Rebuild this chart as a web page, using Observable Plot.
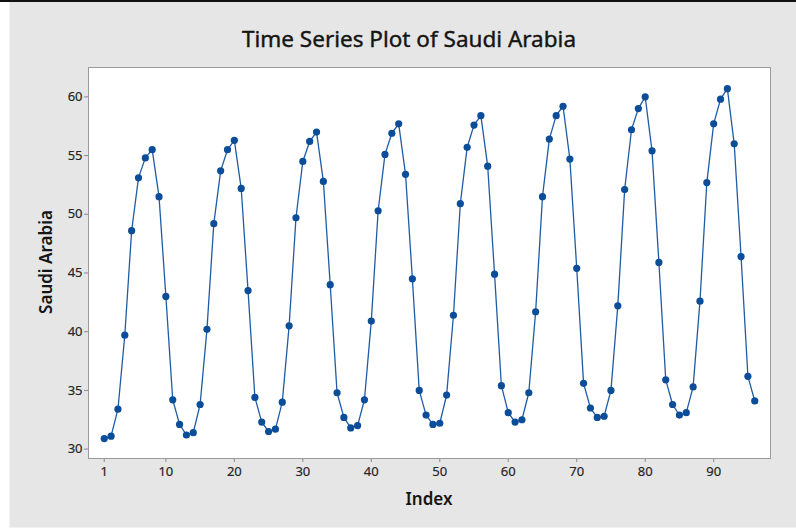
<!DOCTYPE html>
<html>
<head>
<meta charset="utf-8">
<script src="https://cdn.jsdelivr.net/npm/d3@7"></script>
<script src="https://cdn.jsdelivr.net/npm/@observablehq/plot@0.6"></script>
<style>
  body { margin: 0; background: #fff; }
  #wrap { position: relative; width: 796px; height: 530px; overflow: hidden; background: #fff; border-top: 2px solid #111; box-sizing: border-box; }
  #panel { position: absolute; left: 9px; top: 0; right: 0; bottom: 2px; background: #e6e6e6; border-left: 1px solid #f2f2f2; border-bottom: 1px solid #f2f2f2; }
  #chart { position: absolute; left: 0; top: -2px; }
  .txt { position: absolute; font-family: "Noto Sans", "Open Sans", sans-serif; color: #151515; white-space: nowrap; }
  #title { left: 409px; top: 21px; transform: translateX(-50%); font-size: 22.5px; -webkit-text-stroke: 0.4px #151515; }
  #xlab { left: 429px; top: 485px; transform: translateX(-50%); font-size: 17px; font-weight: 600; }
  #ylab { left: 45px; top: 260px; transform: translate(-50%, -50%) rotate(-90deg); font-size: 17px; font-weight: 600; }
  #chart svg g[aria-label$="tick label"] text { stroke: #262626; stroke-width: 0.2px; }
</style>
</head>
<body>
<div id="wrap">
  <div id="panel"></div>
  <div id="chart"></div>
  <div class="txt" id="title">Time Series Plot of Saudi Arabia</div>
  <div class="txt" id="ylab">Saudi Arabia</div>
  <div class="txt" id="xlab">Index</div>
</div>
<script>
// Monthly series, observations 1..96
const saudiArabia = [
  30.9, 31.1, 33.4, 39.7, 48.6, 53.1, 54.8, 55.5, 51.5, 43.0, 34.2, 32.1,
  31.2, 31.4, 33.8, 40.2, 49.2, 53.7, 55.5, 56.3, 52.2, 43.5, 34.4, 32.3,
  31.5, 31.7, 34.0, 40.5, 49.7, 54.5, 56.2, 57.0, 52.8, 44.0, 34.8, 32.7,
  31.8, 32.0, 34.2, 40.9, 50.3, 55.1, 56.9, 57.7, 53.4, 44.5, 35.0, 32.9,
  32.1, 32.2, 34.6, 41.4, 50.9, 55.7, 57.6, 58.4, 54.1, 44.9, 35.4, 33.1,
  32.3, 32.5, 34.8, 41.7, 51.5, 56.4, 58.4, 59.2, 54.7, 45.4, 35.6, 33.5,
  32.7, 32.8, 35.0, 42.2, 52.1, 57.2, 59.0, 60.0, 55.4, 45.9, 35.9, 33.8,
  32.9, 33.1, 35.3, 42.6, 52.7, 57.7, 59.8, 60.7, 56.0, 46.4, 36.2, 34.1
];
const xTicks = [1, 10, 20, 30, 40, 50, 60, 70, 80, 90];
const yTicks = [30, 35, 40, 45, 50, 55, 60];

const data = saudiArabia.map((value, i) => ({index: i + 1, value}));

const lineColor = "#1f5ca6";
const dotColor = "#0b4d98";

const chart = Plot.plot({
  width: 796,
  height: 530,
  marginLeft: 88,
  marginRight: 26,
  marginTop: 67,
  marginBottom: 72,
  style: {background: "transparent", fontFamily: "'Noto Sans', 'Open Sans', sans-serif", fontSize: "13px", color: "#262626"},
  x: {domain: [-1.3, 98.3]},
  y: {domain: [29.2, 62.5]},
  marks: [
    Plot.frame({fill: "white", stroke: "none"}),
    Plot.axisX({ticks: xTicks, tickSize: 4, tickPadding: 4, stroke: "#8a8a8a", fill: "#262626", label: null}),
    Plot.axisY({ticks: yTicks, tickSize: 4, tickPadding: 2, stroke: "#8a8a8a", fill: "#262626", label: null}),
    Plot.line(data, {x: "index", y: "value", stroke: lineColor, strokeWidth: 1.3}),
    Plot.dot(data, {x: "index", y: "value", r: 3.6, fill: dotColor, stroke: "none"}),
    Plot.frame({stroke: "#9a9a9a", strokeWidth: 1})
  ]
});
document.getElementById("chart").appendChild(chart);
</script>
</body>
</html>
